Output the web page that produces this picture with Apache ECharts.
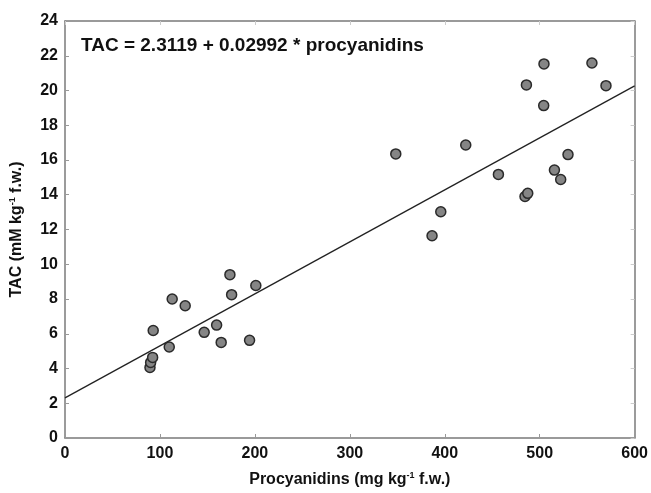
<!DOCTYPE html>
<html>
<head>
<meta charset="utf-8">
<script src="https://cdn.jsdelivr.net/npm/echarts@6/dist/echarts.min.js"></script>
<style>html,body{margin:0;padding:0;background:#fff;}#c{width:651px;height:493px;}</style>
</head>
<body>
<div id="c"></div>
<script>
var procyanidins = [89.5, 90.2, 92.3, 92.9, 109.8, 112.9, 126.6, 146.6, 159.7, 164.5, 173.7, 175.5, 194.4, 201,
  348.4, 386.6, 395.8, 422.1, 456.5, 484.5, 487.4, 486, 504.5, 504.2, 515.5, 522.1, 529.8, 555, 569.8];
var tac = [4.06, 4.35, 4.64, 6.19, 5.24, 8.0, 7.61, 6.08, 6.5, 5.5, 9.4, 8.25, 5.62, 8.78,
  16.35, 11.64, 13.02, 16.86, 15.17, 13.9, 14.08, 20.32, 21.53, 19.13, 15.42, 14.88, 16.31, 21.58, 20.28];
var intercept = 2.3119;
var slope = 0.02992;
var xRange = [0, 600];
var yRange = [0, 24];
var equationText = 'TAC = 2.3119 + 0.02992 * procyanidins';

var points = procyanidins.map(function (x, i) { return [x, tac[i]]; });
var fitLine = xRange.map(function (x) { return [x, intercept + slope * x]; });

var font = '"Liberation Sans", Arial, sans-serif';
var chart = echarts.init(document.getElementById('c'), null, {renderer: 'canvas'});
var axisLineStyle = {color: '#7a7a7a', width: 1.5};
chart.setOption({
  animation: false,
  backgroundColor: '#fff',
  grid: {left: 65, right: 16, top: 21, bottom: 55, containLabel: false},
  graphic: [{
    type: 'text', left: 81, top: 36,
    style: {text: equationText, fontFamily: font, fontWeight: 'bold', fontSize: 19, fill: '#111'}
  }],
  xAxis: [{
    type: 'value', min: xRange[0], max: xRange[1], interval: 100,
    name: 'Procyanidins (mg kg{s|-1} f.w.)', nameLocation: 'middle', nameGap: 33,
    nameTextStyle: {fontFamily: font, fontWeight: 'bold', fontSize: 16, color: '#111',
      rich: {s: {fontFamily: font, fontWeight: 'bold', fontSize: 9, verticalAlign: 'top', padding: [0, 0, 8, 0]}}},
    axisLine: {onZero: false, lineStyle: axisLineStyle},
    axisTick: {inside: true, length: 4, lineStyle: {color: '#999'}},
    axisLabel: {fontFamily: font, fontWeight: 'bold', fontSize: 16, color: '#111', margin: 8},
    splitLine: {show: false}
  }, {
    type: 'value', position: 'top', min: xRange[0], max: xRange[1], interval: 100,
    axisLine: {onZero: false, lineStyle: axisLineStyle},
    axisTick: {inside: true, length: 4, lineStyle: {color: '#ccc'}},
    axisLabel: {show: false}, splitLine: {show: false}
  }],
  yAxis: [{
    type: 'value', min: yRange[0], max: yRange[1], interval: 2,
    name: 'TAC (mM kg{s|-1} f.w.)', nameLocation: 'middle', nameGap: 40, nameRotate: 90,
    nameTextStyle: {fontFamily: font, fontWeight: 'bold', fontSize: 16, color: '#111',
      rich: {s: {fontFamily: font, fontWeight: 'bold', fontSize: 9, verticalAlign: 'top', padding: [0, 0, 8, 0]}}},
    axisLine: {onZero: false, lineStyle: axisLineStyle},
    axisTick: {inside: true, length: 4, lineStyle: {color: '#999'}},
    axisLabel: {fontFamily: font, fontWeight: 'bold', fontSize: 16, color: '#111', margin: 7},
    splitLine: {show: false}
  }, {
    type: 'value', position: 'right', min: yRange[0], max: yRange[1], interval: 2,
    axisLine: {onZero: false, lineStyle: axisLineStyle},
    axisTick: {inside: true, length: 4, lineStyle: {color: '#ccc'}},
    axisLabel: {show: false}, splitLine: {show: false}
  }],
  series: [{
    type: 'line', data: fitLine, showSymbol: false, symbol: 'none',
    lineStyle: {color: '#222', width: 1.3}, z: 2
  }, {
    type: 'scatter', data: points, symbol: 'circle', symbolSize: 10,
    itemStyle: {color: '#858585', borderColor: '#2a2a2a', borderWidth: 1.5, opacity: 1}, z: 3
  }]
});
</script>
</body>
</html>
